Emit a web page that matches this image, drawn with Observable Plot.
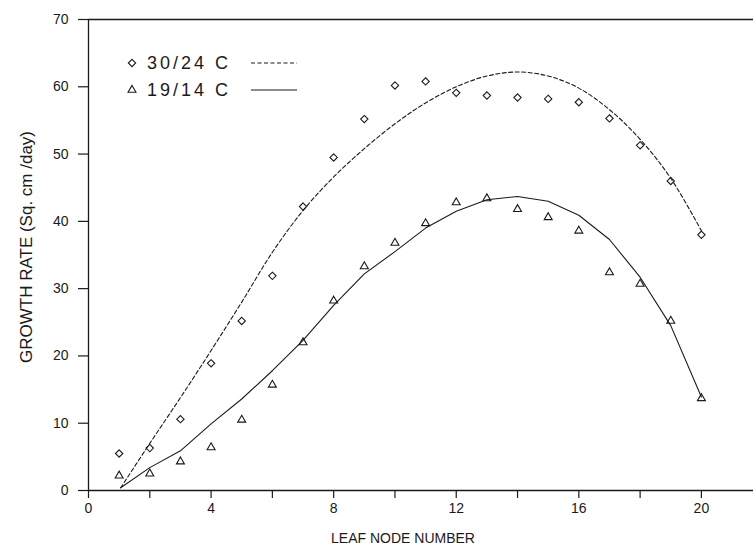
<!DOCTYPE html>
<html>
<head>
<meta charset="utf-8">
<script src="https://cdn.jsdelivr.net/npm/d3@7"></script>
<script src="https://cdn.jsdelivr.net/npm/@observablehq/plot@0.6"></script>
<style>
  html, body { margin: 0; padding: 0; background: #fff; }
  #chart svg { display: block; }
</style>
</head>
<body>
<div id="chart"></div>
<script>
// Observed points (leaf node number vs growth rate)
const nodes = [1,2,3,4,5,6,7,8,9,10,11,12,13,14,15,16,17,18,19,20];
const warmObs = [5.5,6.3,10.6,18.9,25.2,31.9,42.2,49.5,55.2,60.2,60.8,59.1,58.7,58.4,58.2,57.7,55.3,51.3,46.0,38.0];
const coolObs = [2.2,2.5,4.3,6.4,10.5,15.7,22.0,28.2,33.3,36.8,39.7,42.8,43.4,41.8,40.6,38.6,32.4,30.7,25.2,13.7];

// Fitted curves
const curveNodes = [1.05,2,3,4,5,6,7,8,9,10,11,12,13,14,15,16,17,18,19,20];
const warmFit = [0.4,7.0,13.8,20.8,28.0,35.4,41.6,46.6,50.8,54.5,57.6,60.0,61.6,62.2,61.6,59.8,56.6,52.2,46.4,38.6];
const coolFit = [0.4,3.4,5.9,9.9,13.6,17.8,22.3,27.5,32.2,35.5,39.0,41.5,43.2,43.7,43.0,40.9,37.3,31.7,24.5,13.9];

// Axis ticks
const xTicks = [0,2,4,6,8,10,12,14,16,18,20];
const yTicks = [0,10,20,30,40,50,60,70];

const seriesLabels = ["30/24 C", "19/14 C"];
const xLabel = "LEAF NODE NUMBER";
const yLabel = "GROWTH RATE (Sq. cm /day)";

const warmPts = nodes.map((n, i) => ({x: n, y: warmObs[i]}));
const coolPts = nodes.map((n, i) => ({x: n, y: coolObs[i]}));
const warmLine = curveNodes.map((n, i) => ({x: n, y: warmFit[i]}));
const coolLine = curveNodes.map((n, i) => ({x: n, y: coolFit[i]}));

const FONT = "Liberation Sans, Arial, sans-serif";
const INK = "#1a1a1a";

const chart = Plot.plot({
  width: 753,
  height: 553,
  marginLeft: 88,
  marginRight: 0,
  marginTop: 19,
  marginBottom: 63,
  style: {fontFamily: FONT, fontSize: "14px", color: INK, background: "#fff"},
  x: {domain: [0, 21.7]},
  y: {domain: [0, 70]},
  marks: [
    Plot.axisX({ticks: xTicks, tickSize: 8, tickPadding: 5, tickFormat: d => (d % 4 === 0 ? d : ""), label: null, fontSize: 14, stroke: INK, strokeWidth: 1.2}),
    Plot.axisY({ticks: yTicks, tickSize: 10, tickPadding: 10, label: null, fontSize: 14, stroke: INK, strokeWidth: 1.2}),
    Plot.ruleY([0], {stroke: INK, strokeWidth: 1.3}),
    Plot.ruleY([70], {stroke: INK, strokeWidth: 1.3}),
    Plot.ruleX([0], {stroke: INK, strokeWidth: 1.3}),
    Plot.line(warmLine, {x: "x", y: "y", stroke: INK, strokeWidth: 1.1, strokeDasharray: "4,2.5", curve: "catmull-rom"}),
    Plot.line(coolLine, {x: "x", y: "y", stroke: INK, strokeWidth: 1.1, curve: "linear"}),
    Plot.dot(warmPts, {x: "x", y: "y", symbol: "diamond2", r: 3.3, stroke: INK, strokeWidth: 1.1, fill: "none"}),
    Plot.dot(coolPts, {x: "x", y: "y", symbol: "triangle2", r: 3.8, stroke: INK, strokeWidth: 1.1, fill: "none"}),
    Plot.text([yLabel], {frameAnchor: "left", textAnchor: "middle", rotate: -90, dx: -62, dy: -8, fontSize: 17, fill: INK, letterSpacing: 2.6}),
    Plot.text([xLabel], {frameAnchor: "bottom", textAnchor: "middle", dx: -18, dy: 52, fontSize: 14, fill: INK, letterSpacing: 1.2})
  ]
});

document.getElementById("chart").appendChild(chart);

// Legend (inside plot area, upper left)
const svg = d3.select(chart);
const lg = svg.append("g").attr("font-family", FONT).attr("fill", INK).attr("text-anchor", "start");
const items = [
  {label: seriesLabels[0], sym: d3.symbolDiamond2, size: Math.PI * 3.3 * 3.3, dash: "4,2.5", y: 63},
  {label: seriesLabels[1], sym: d3.symbolTriangle2, size: Math.PI * 3.8 * 3.8, dash: null, y: 90}
];
items.forEach(it => {
  lg.append("path")
    .attr("d", d3.symbol(it.sym, it.size)())
    .attr("transform", `translate(132,${it.y})`)
    .attr("fill", "none").attr("stroke", INK).attr("stroke-width", 1.1);
  lg.append("text")
    .attr("x", 147).attr("y", it.y).attr("dy", "0.35em")
    .attr("text-anchor", "start")
    .attr("font-size", 18).attr("letter-spacing", 3)
    .text(it.label);
  const l = lg.append("line")
    .attr("x1", 251).attr("x2", 297).attr("y1", it.y).attr("y2", it.y)
    .attr("stroke", INK).attr("stroke-width", 1.1);
  if (it.dash) l.attr("stroke-dasharray", it.dash);
});
</script>
</body>
</html>
